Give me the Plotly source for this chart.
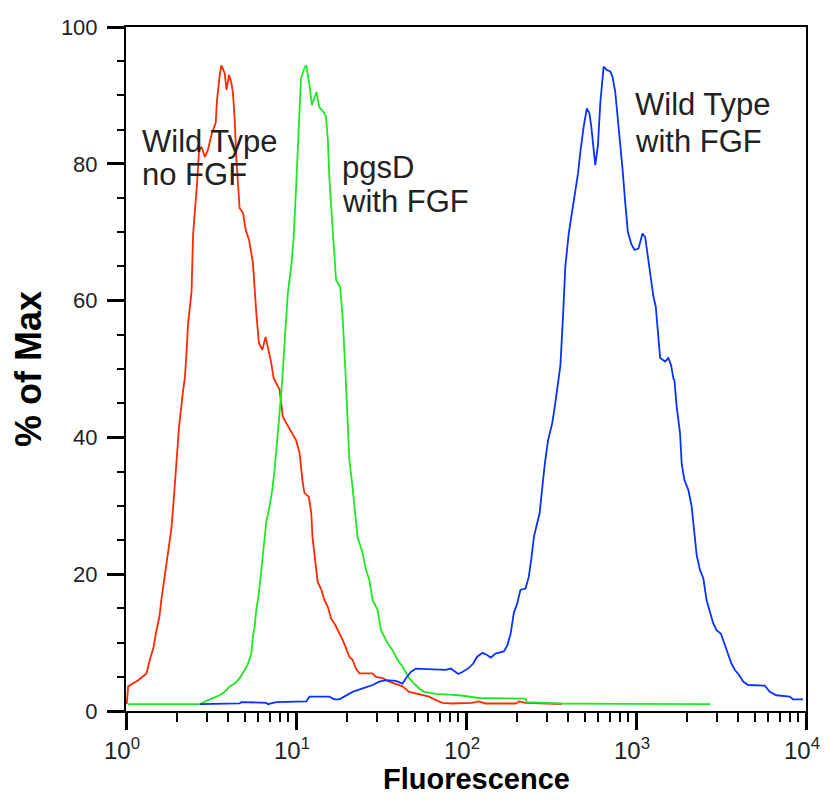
import plotly.graph_objects as go

# ---------------- data (fluorescence, % of max) ----------------
red_x = [1.01, 1.03, 1.18, 1.32, 1.38, 1.45, 1.50, 1.57, 1.62, 1.67, 1.73, 1.79, 1.85, 1.91, 1.98,
         2.05, 2.17, 2.22, 2.27, 2.32, 2.43, 2.48, 2.62, 2.69, 2.78, 2.91, 3.03, 3.18, 3.37, 3.43,
         3.56, 3.64, 3.81, 3.90, 4.04, 4.17, 4.26, 4.36, 4.46, 4.56, 4.66, 4.88, 5.06, 5.29, 5.58,
         5.84, 6.05, 6.34, 6.62, 6.83, 7.15, 7.38, 7.48, 8.00, 8.37, 8.95, 9.58, 10.0, 10.5, 10.9,
         11.2, 11.9, 12.3, 12.5, 13.1, 13.4, 14.1, 14.7, 15.4, 16.1, 17.0, 18.0, 18.8, 19.7, 20.6,
         21.5, 22.5, 23.6, 28.2, 29.5, 32.3, 35.4, 38.7, 42.3, 46.3, 50.7, 60.7, 66.4, 72.6, 82.8,
         108, 119, 130, 196, 205, 224, 366]
red_y = [1.0, 3.6, 4.5, 5.5, 7.5, 9.2, 11.4, 13.7, 16.5, 18.9, 21.0, 23.8, 26.7, 31.0, 36.0,
         41.5, 47.0, 48.7, 52.5, 56.7, 61.3, 69.6, 77.2, 82.0, 82.5, 81.0, 82.0, 84.2, 86.0, 89.3,
         93.0, 94.4, 93.2, 90.8, 93.0, 91.8, 90.3, 86.4, 80.6, 76.6, 73.5, 72.8, 70.3, 68.9, 65.5,
         58.2, 53.8, 52.8, 54.7, 53.2, 50.9, 48.7, 48.4, 47.0, 43.0, 41.6, 40.4, 39.6, 37.7, 33.8,
         31.9, 31.3, 28.9, 25.5, 21.0, 18.9, 17.7, 16.2, 15.2, 13.5, 12.6, 11.4, 10.4, 9.2, 7.9,
         7.5, 6.2, 5.5, 5.5, 5.0, 4.8, 4.3, 4.0, 3.6, 2.8, 2.6, 2.1, 1.6, 1.2, 1.1,
         1.2, 1.4, 1.1, 1.1, 1.4, 1.2, 1.0]

green_x = [1.03, 2.72, 3.04, 3.56, 3.81, 4.07, 4.36, 4.66, 4.99, 5.22, 5.46, 5.58, 5.71, 5.84, 6.05,
           6.25, 6.45, 6.69, 6.99, 7.25, 7.48, 7.72, 8.00, 8.30, 8.68, 8.95, 9.37, 9.67, 10.0, 10.4,
           10.7, 11.2, 11.5, 12.0, 12.4, 13.2, 13.7, 14.5, 15.0, 15.4, 15.7, 16.3, 16.8, 17.2, 18.2,
           18.8, 19.5, 20.1, 20.6, 21.5, 22.3, 23.0, 24.7, 25.8, 27.0, 28.2, 30.2, 31.6, 33.0, 34.6,
           37.0, 39.5, 42.3, 44.3, 46.3, 49.5, 53.0, 56.7, 62.1, 66.4, 79.5, 91.0, 119, 224, 228,
           366, 790, 2735]
green_y = [1.0, 1.0, 1.6, 2.3, 2.8, 3.6, 4.0, 4.8, 6.0, 6.9, 8.4, 10.9, 12.3, 14.8, 17.2,
           20.6, 24.5, 27.7, 29.9, 32.3, 35.2, 38.6, 43.5, 48.4, 55.3, 61.1, 65.0, 68.9, 76.2, 85.9,
           92.5, 94.0, 94.4, 91.5, 88.6, 90.5, 88.3, 87.6, 86.9, 83.5, 78.1, 71.8, 65.9, 63.0, 62.0,
           57.6, 50.0, 42.0, 36.7, 32.8, 28.9, 25.5, 23.0, 20.6, 19.2, 16.2, 14.8, 11.8, 10.9, 9.9,
           8.9, 7.5, 6.5, 5.7, 4.8, 4.0, 3.3, 2.8, 2.6, 2.5, 2.4, 2.3, 1.9, 1.8, 1.3,
           1.1, 1.05, 1.0]

blue_x = [2.72, 4.66, 4.77, 6.69, 6.83, 7.65, 11.5, 12.0, 15.7, 16.8, 18.0, 19.7, 21.5, 24.7, 28.2,
          30.9, 33.8, 38.7, 42.3, 44.3, 47.4, 50.7, 63.4, 76.0, 81.4, 87.0, 90.1, 95.1, 104, 110,
          116, 125, 133, 140, 149, 167, 175, 183, 191, 200, 209, 224, 234, 243, 251,
          262, 271, 280, 291, 304, 321, 333, 343, 359, 372, 384, 402, 420, 440, 456,
          471, 492, 514, 532, 546, 563, 576, 597, 617, 645, 674, 706, 728, 755, 782,
          808, 833, 865, 895, 937, 980, 1034, 1092, 1132, 1173, 1228, 1266, 1307, 1343, 1387,
          1484, 1551, 1608, 1659, 1682, 1735, 1816, 1856, 1925, 2032, 2125, 2204, 2274, 2380, 2489,
          2602, 2724, 2848, 2978, 3160, 3304, 3455, 3647, 3818, 4030, 4271, 4569, 5724, 6124, 6696,
          8024, 8391, 9603]
blue_y = [1.0, 1.1, 1.3, 1.2, 1.0, 1.3, 1.4, 2.1, 2.1, 1.7, 1.7, 2.3, 2.8, 3.3, 3.8,
          4.3, 4.5, 4.4, 4.0, 4.8, 5.7, 6.2, 6.1, 6.0, 6.2, 5.7, 5.4, 5.7, 6.3, 6.9,
          7.9, 8.5, 8.2, 7.8, 8.4, 8.7, 9.6, 11.3, 14.3, 15.7, 17.7, 17.9, 19.6, 22.5, 25.5,
          27.4, 28.9, 32.3, 36.2, 39.6, 42.0, 44.5, 47.2, 50.5, 57.6, 65.0, 69.8, 72.8, 76.6, 78.6,
          81.8, 85.4, 88.1, 87.4, 85.4, 82.0, 79.8, 82.7, 89.0, 94.2, 93.7, 93.5, 92.7, 90.5, 86.6,
          83.5, 79.3, 74.2, 70.1, 68.3, 67.4, 67.6, 69.8, 69.3, 66.4, 62.5, 60.6, 59.1, 55.7, 51.6,
          51.1, 51.6, 50.6, 48.6, 48.4, 44.5, 40.6, 36.2, 33.8, 32.3, 29.9, 25.9, 22.8, 20.6, 19.4,
          16.2, 14.3, 12.8, 11.8, 11.3, 9.9, 8.4, 6.9, 6.0, 5.3, 4.3, 3.8, 3.7, 2.8, 2.3,
          2.1, 1.7, 1.7]

x_tickvals = [1, 10, 100, 1000, 10000]
x_ticktext = ["10<sup>0</sup>", "10<sup>1</sup>", "10<sup>2</sup>", "10<sup>3</sup>", "10<sup>4</sup>"]
y_tickvals = [0, 20, 40, 60, 80, 100]

labels = [
    ("Wild Type", 0.0206, 0.833),
    ("no FGF", 0.0206, 0.784),
    ("pgsD", 0.3147, 0.794),
    ("with FGF", 0.3147, 0.745),
    ("Wild Type", 0.7456, 0.886),
    ("with FGF", 0.7456, 0.833),
]

FONT = "Liberation Sans, Arial, sans-serif"

fig = go.Figure()
fig.add_trace(go.Scatter(x=red_x, y=red_y, mode="lines",
                         line=dict(color="#ff2a00", width=1.8), name="Wild Type no FGF"))
fig.add_trace(go.Scatter(x=green_x, y=green_y, mode="lines",
                         line=dict(color="#1ee81e", width=1.8), name="pgsD with FGF"))
fig.add_trace(go.Scatter(x=blue_x, y=blue_y, mode="lines",
                         line=dict(color="#0a32ff", width=1.8), name="Wild Type with FGF"))

minor_x = [m * 10 ** e for e in range(4) for m in range(2, 10)]

fig.update_xaxes(
    type="log", range=[0, 4], automargin=False,
    tickmode="array", tickvals=x_tickvals, ticktext=x_ticktext,
    ticks="outside", ticklen=17, tickwidth=3, tickcolor="#000",
    minor=dict(tickmode="array", tickvals=minor_x, ticks="outside", ticklen=9,
               tickwidth=2, tickcolor="#000", showgrid=False),
    showline=True, linecolor="#000", linewidth=2, mirror=True,
    showgrid=False, zeroline=False,
    ticklabelshift=-4,
    tickfont=dict(family=FONT, size=24, color="#222"),
)
fig.update_yaxes(
    range=[0, 100], automargin=False,
    tickmode="array", tickvals=y_tickvals,
    ticks="outside", ticklen=17, tickwidth=3, tickcolor="#000",
    minor=dict(dtick=5, ticks="outside", ticklen=7, tickwidth=1.5, tickcolor="#000",
               showgrid=False),
    showline=True, linecolor="#000", linewidth=2, mirror=True,
    showgrid=False, zeroline=False,
    ticklabelstandoff=5,
    tickfont=dict(family=FONT, size=22, color="#222"),
    title=dict(text="<b>% of Max</b>", font=dict(family=FONT, size=36, color="#000"),
               standoff=12),
)

# x-axis title (placed as an annotation, slightly right of centre as in the original)
fig.add_annotation(text="<b>Fluorescence</b>", x=0.515, y=-0.0994, xref="paper", yref="paper",
                   xanchor="center", yanchor="middle", showarrow=False,
                   font=dict(family=FONT, size=29, color="#000"))

for txt, xp, yp in labels:
    fig.add_annotation(text=txt, x=xp, y=yp, xref="paper", yref="paper",
                       xanchor="left", yanchor="middle", showarrow=False,
                       font=dict(family=FONT, size=31, color="#222"))

# the page places the figure 8 px from the window's edges
fig.update_layout(
    width=814, height=789,
    margin=dict(l=118, r=16, t=19, b=86),
    paper_bgcolor="white", plot_bgcolor="white",
    showlegend=False,
)

fig.write_html("out.html")
